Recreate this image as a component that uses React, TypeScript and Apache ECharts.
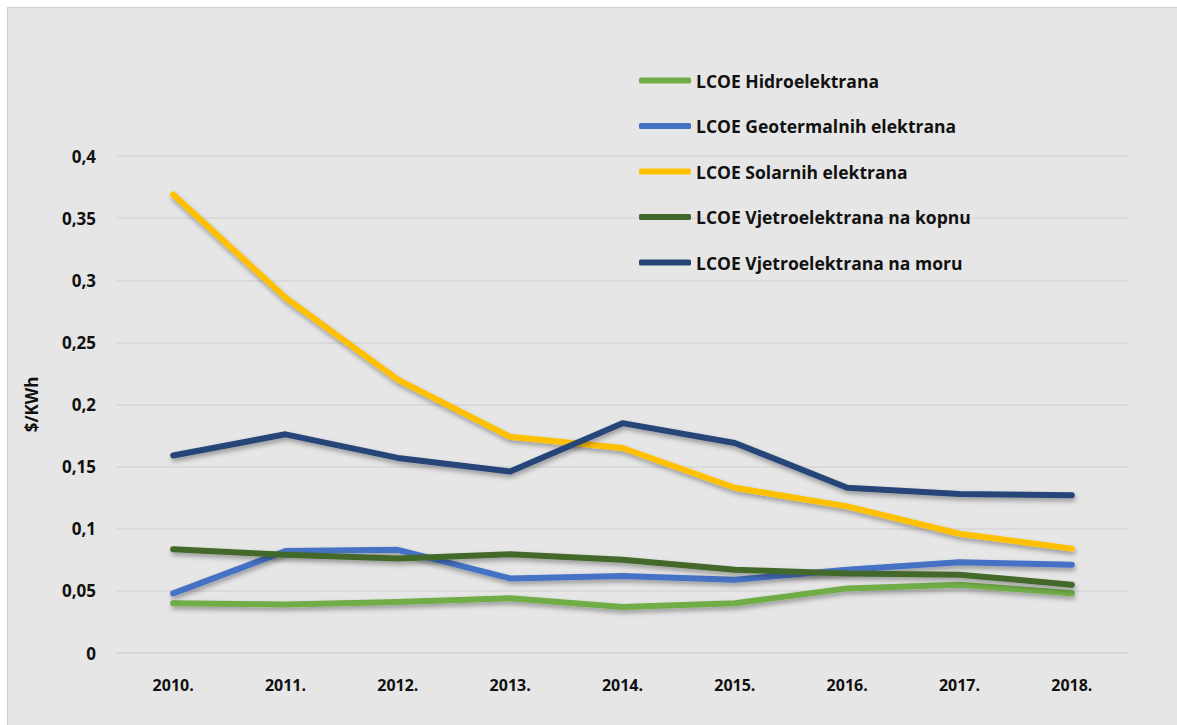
import React, { useEffect, useRef } from "react";
import * as echarts from "echarts";

const categories = ["2010.", "2011.", "2012.", "2013.", "2014.", "2015.", "2016.", "2017.", "2018."];
const seriesNames = [
  "LCOE Hidroelektrana",
  "LCOE Geotermalnih elektrana",
  "LCOE Solarnih elektrana",
  "LCOE Vjetroelektrana na kopnu",
  "LCOE Vjetroelektrana na moru",
];
const hydro = [0.040, 0.039, 0.041, 0.044, 0.037, 0.040, 0.052, 0.055, 0.048];
const geothermal = [0.048, 0.082, 0.083, 0.060, 0.062, 0.059, 0.067, 0.073, 0.071];
const solar = [0.369, 0.286, 0.220, 0.174, 0.165, 0.133, 0.118, 0.096, 0.084];
const onshore = [0.0835, 0.079, 0.076, 0.0795, 0.075, 0.067, 0.064, 0.063, 0.055];
const offshore = [0.159, 0.176, 0.157, 0.146, 0.185, 0.169, 0.133, 0.128, 0.127];
const colors = ["#70ad47", "#4472c4", "#ffc000", "#43682b", "#264478"];

export default function App() {
  const ref = useRef<HTMLDivElement>(null);
  useEffect(() => {
    if (!ref.current) return;
    const chart = echarts.init(ref.current, null, { renderer: "svg" });
    const data = [hydro, geothermal, solar, onshore, offshore];
    const font = "Open Sans";
    chart.setOption({
      animation: false,
      backgroundColor: "#e6e6e6",
      textStyle: { fontFamily: font },
      legend: {
        orient: "vertical",
        left: 626,
        top: 58,
        itemGap: 26.5,
        itemWidth: 52,
        itemHeight: 6,
        icon: "roundRect",
        data: seriesNames,
        textStyle: { fontFamily: font, fontSize: 17.5, fontWeight: "bold", color: "#111", lineHeight: 19 },
      },
      grid: { left: 109, right: 49, top: 148, bottom: 72 },
      xAxis: {
        type: "category",
        data: categories,
        boundaryGap: true,
        axisLine: { show: true, lineStyle: { color: "#d6d6d6", width: 1.5 } },
        axisTick: { show: false },
        axisLabel: { margin: 24, fontFamily: font, fontSize: 16, fontWeight: "bold", color: "#111" },
      },
      yAxis: {
        type: "value",
        min: 0,
        max: 0.4,
        interval: 0.05,
        name: "$/KWh",
        nameLocation: "middle",
        nameGap: 77,
        nameRotate: 90,
        nameTextStyle: { fontFamily: font, fontSize: 17, fontWeight: "bold", color: "#111" },
        axisLine: { show: false },
        axisTick: { show: false },
        splitLine: { lineStyle: { color: "#d6d6d6", width: 1.5 } },
        axisLabel: {
          margin: 21,
          fontFamily: font,
          fontSize: 17,
          fontWeight: "bold",
          color: "#111",
          formatter: (v: number) => String(Math.round(v * 100) / 100).replace(".", ","),
        },
      },
      series: seriesNames.map((n, i) => ({
        name: n,
        type: "line",
        data: data[i],
        symbol: "none",
        color: colors[i],
        itemStyle: { color: colors[i] },
        lineStyle: {
          color: colors[i],
          width: 6,
          cap: "round",
          join: "round",
          shadowColor: "rgba(0,0,0,0.35)",
          shadowBlur: 5,
          shadowOffsetX: 1,
          shadowOffsetY: 3,
        },
      })),
    });
    return () => chart.dispose();
  }, []);
  return (
    <div
      ref={ref}
      style={{
        position: "absolute",
        left: 7,
        top: 7,
        width: 1170,
        height: 718,
        boxSizing: "border-box",
        borderLeft: "1px solid #cfcfcf",
        borderTop: "1px solid #cfcfcf",
      }}
    />
  );
}
